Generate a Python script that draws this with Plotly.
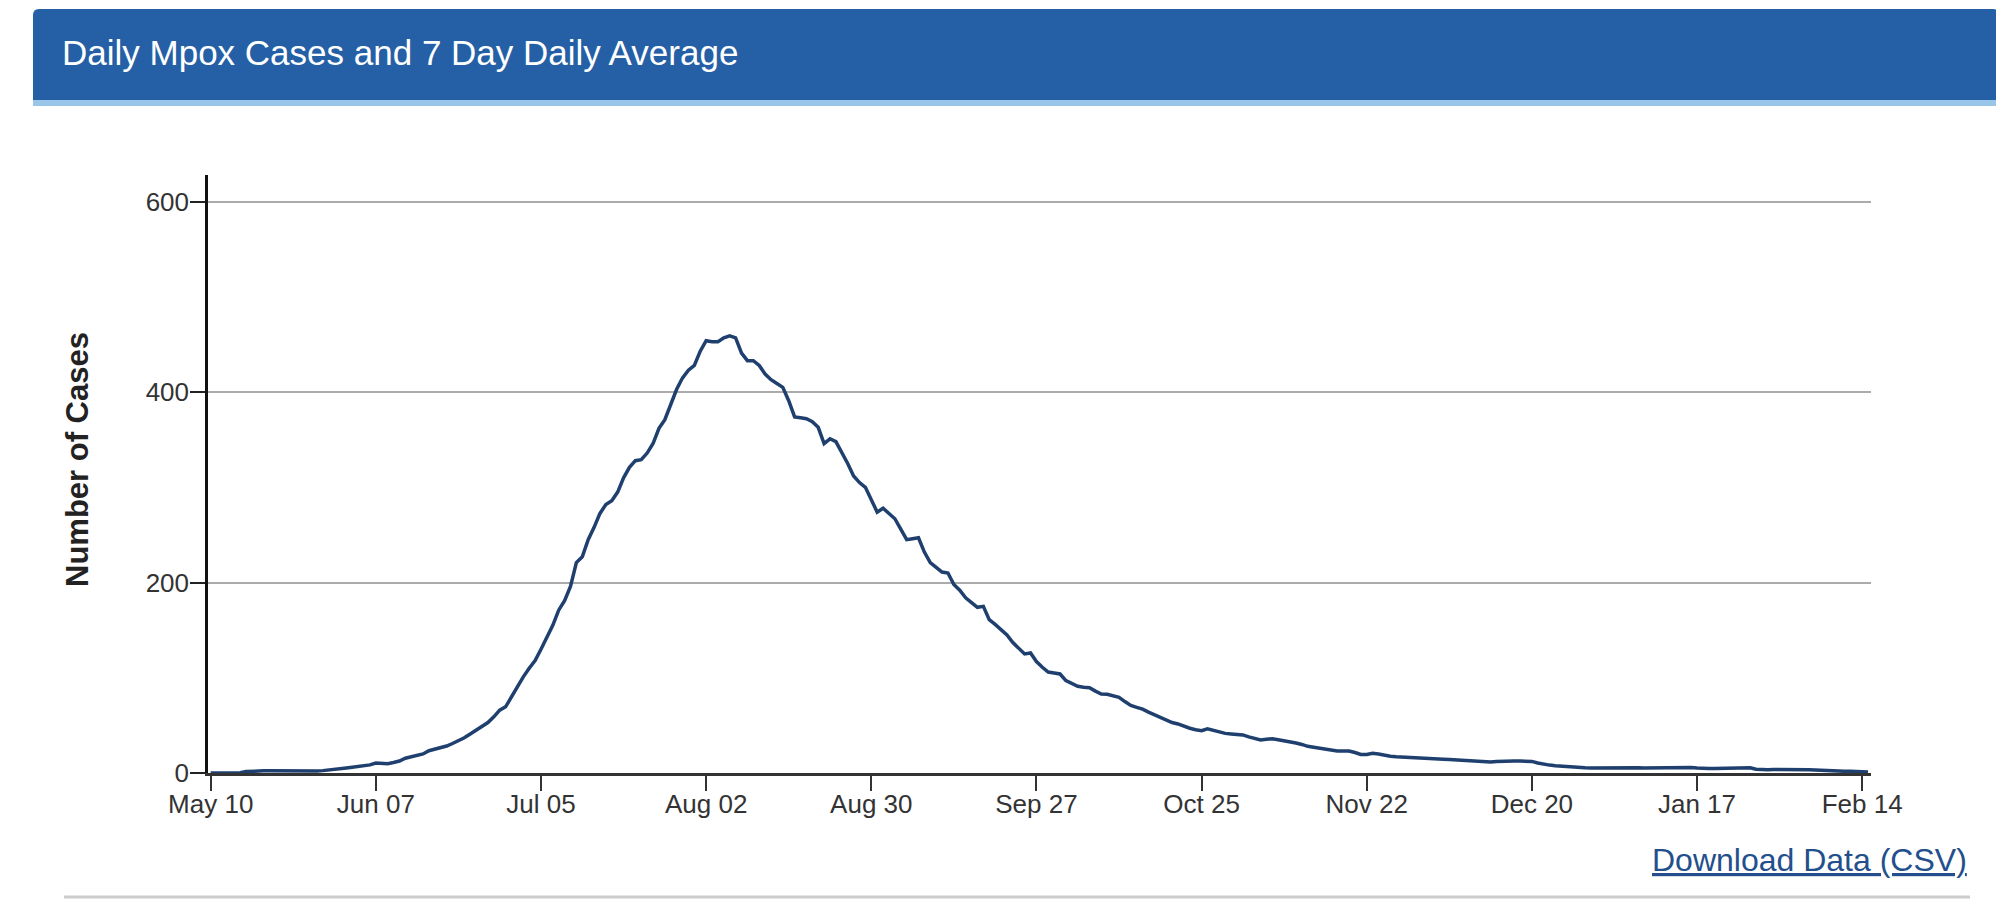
import pandas as pd
import plotly.graph_objects as go

# ---- data (7-day daily average of mpox cases), one value per day from 2022-05-10 ----
start_date = "2022-05-10"
avg_cases = [
    0, 0, 0, 0, 0, 0.3, 1.5, 2, 2, 2.3,
    2.3, 2.3, 2, 1.5, 1.5, 1.5, 1.5, 1.6, 2, 2.5,
    3, 3.5, 4.5, 5.2, 6, 6.8, 7.3, 8.5, 10.5, 10.3,
    9.8, 11, 12.6, 15.5, 16.8, 17.8, 20, 23.4, 25, 27,
    28.3, 31, 33.9, 37, 41, 45, 49, 53, 59, 66,
    69.5, 80, 91, 101, 110, 118, 130, 142, 155, 171,
    181, 196, 221, 227, 245, 258, 272.6, 282, 286, 295,
    310, 321, 328, 329, 336, 346, 362, 371, 387, 403,
    415, 423, 428, 443, 454, 453, 453, 457, 459, 457,
    441, 433, 433, 428, 419, 413, 409, 405, 391, 374,
    373, 372, 369, 363, 346, 351, 348, 337, 325, 312,
    305, 300, 287, 274, 278, 273, 267, 256, 245, 246,
    247, 232, 221, 216, 211, 210, 198, 192, 184, 179,
    174, 175, 161, 156, 150, 145, 137, 131, 125, 126,
    117, 111, 106, 105, 104, 97, 94, 91, 90, 89.6,
    86, 83, 82.6, 81, 79.5, 75, 71, 69, 67, 64,
    61, 58, 55, 53, 51.5, 49, 47, 45.5, 44.4, 46.5,
    45, 43, 41.6, 41, 40.5, 40, 38, 36, 34.6, 35.5,
    36, 35, 34, 33, 31.5, 30, 28, 27, 26, 25,
    24, 23, 23, 23, 21.5, 19.5, 19.5, 20.6, 20, 18.5,
    17.5, 17, 16.8, 16.5, 16.2, 16, 15.7, 15.5, 15, 14.5,
    14.2, 13.8, 13.2, 12.5, 12.2, 12, 11.8, 11.5, 12, 12.5,
    12.9, 12.7, 12.5, 12.3, 12.2, 10.5, 9.1, 8.3, 7.6, 7,
    6.6, 6.2, 5.8, 5.4, 5.2, 5.3, 5.4, 5.5, 5.9, 6.1,
    6.2, 5.8, 5.5, 5.3, 5.3, 5.7, 6, 6.2, 6.2, 6.2,
    6.2, 5.8, 5.2, 4.7, 4.6, 4.7, 4.8, 4.9, 5, 5.2,
    5.4, 5.5, 4, 3.5, 3.5, 3.6, 3.7, 3.8, 3.8, 3.6,
    3.4, 3.3, 3.2, 2.8, 2.2, 1.8, 1.8, 1.8, 1.8, 1.8,
    1.8, 1,
]
dates = pd.date_range(start_date, periods=len(avg_cases), freq="D")

x_tick_vals = ["2022-05-10", "2022-06-07", "2022-07-05", "2022-08-02", "2022-08-30",
               "2022-09-27", "2022-10-25", "2022-11-22", "2022-12-20", "2023-01-17",
               "2023-02-14"]
x_tick_text = ["May 10", "Jun 07", "Jul 05", "Aug 02", "Aug 30", "Sep 27",
               "Oct 25", "Nov 22", "Dec 20", "Jan 17", "Feb 14"]
y_tick_vals = [0, 200, 400, 600]

title_text = "Daily Mpox Cases and 7 Day Daily Average"
y_title = "Number of Cases"
link_text = "Download Data (CSV)"

# ---- layout geometry (page pixels; the page body adds an 8px offset) ----
OFF = 8
W, H = 2004 - OFF, 900 - OFF
L, R, T, B = 208 - OFF, 1871 - OFF, 175 - OFF, 773 - OFF
PW, PH = R - L, B - T


def px(x):
    return (x - OFF - L) / PW


def py(y):
    return (B - (y - OFF)) / PH


FONT = "Liberation Sans, Arial, Helvetica, sans-serif"
TXT = "#333333"

fig = go.Figure()
fig.add_trace(go.Scatter(
    x=dates, y=avg_cases, mode="lines",
    line=dict(color="#1f3f6e", width=3.5),
    hoverinfo="skip", showlegend=False,
))

# header panel with rounded top corners
r = 6
x0, x1, y0, y1 = 33, 1999, 9, 100
path = (f"M {px(x0)},{py(y1)} L {px(x0)},{py(y0 + r)} "
        f"Q {px(x0)},{py(y0)} {px(x0 + r)},{py(y0)} "
        f"L {px(x1 - r)},{py(y0)} Q {px(x1)},{py(y0)} {px(x1)},{py(y0 + r)} "
        f"L {px(x1)},{py(y1)} Z")
shapes = [
    dict(type="path", xref="paper", yref="paper", path=path,
         fillcolor="#2560a6", line=dict(width=0), layer="below"),
    dict(type="rect", xref="paper", yref="paper",
         x0=px(x0), x1=px(x1), y0=py(106), y1=py(100),
         fillcolor="#98c5e8", line=dict(width=0), layer="below"),
    dict(type="line", xref="paper", yref="paper",
         x0=px(64), x1=px(1970), y0=py(897), y1=py(897),
         line=dict(color="#cccccc", width=3)),
]

annotations = [
    dict(text=title_text, xref="paper", yref="paper", x=px(60), y=py(53),
         xanchor="left", yanchor="middle", showarrow=False,
         font=dict(family=FONT, size=35, color="#ffffff")),
    dict(text=f"<b>{y_title}</b>", xref="paper", yref="paper", x=px(77), y=py(460),
         xanchor="center", yanchor="middle", textangle=-90, showarrow=False,
         font=dict(family=FONT, size=31, color="#222222")),
    dict(text=f"<u>{link_text}</u>", xref="paper", yref="paper", x=px(1969), y=py(860),
         xanchor="right", yanchor="middle", showarrow=False,
         font=dict(family=FONT, size=32, color="#234f8c")),
]

fig.update_layout(
    width=W, height=H,
    margin=dict(l=L, r=W - R, t=T, b=H - B, pad=0),
    paper_bgcolor="white", plot_bgcolor="white",
    shapes=shapes, annotations=annotations,
    font=dict(family=FONT, color=TXT),
    xaxis=dict(
        type="date",
        range=[pd.Timestamp("2022-05-09 13:00"), pd.Timestamp("2023-02-15 12:00")],
        tickvals=x_tick_vals, ticktext=x_tick_text,
        ticks="outside", ticklen=15, tickwidth=2, tickcolor="#333333",
        showline=True, linecolor="#333333", linewidth=2.5,
        showgrid=False, zeroline=False,
        tickfont=dict(family=FONT, size=26, color=TXT),
        ticklabelstandoff=-9,
        fixedrange=True,
    ),
    yaxis=dict(
        range=[0, 628],
        tickvals=y_tick_vals,
        ticks="outside", ticklen=15, tickwidth=2, tickcolor="#222222",
        showline=True, linecolor="#111111", linewidth=2.5,
        showgrid=True, gridcolor="#ababab", gridwidth=1.5,
        zeroline=False,
        tickfont=dict(family=FONT, size=26, color=TXT),
        ticklabelstandoff=-4,
        fixedrange=True,
    ),
)

fig.write_html("out.html", config={"displayModeBar": False})
